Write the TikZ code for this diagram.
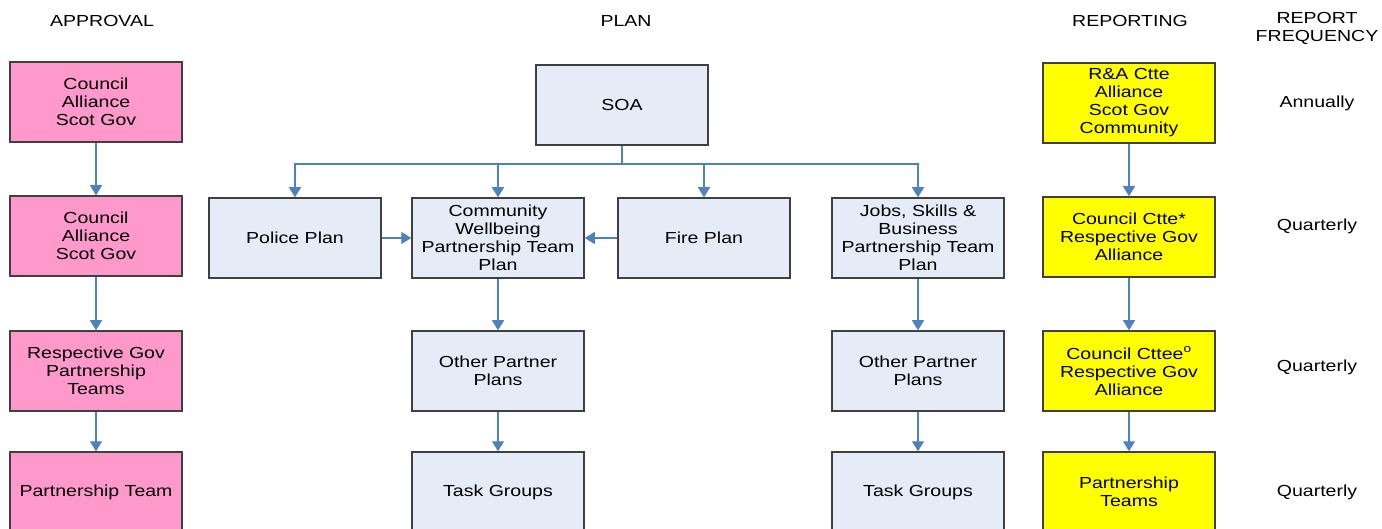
\documentclass[tikz,border=0pt]{standalone}
\usepackage{fontspec}
\setmainfont{Liberation Sans}
\newfontfamily\widefont[FakeStretch=1.22]{Liberation Sans}
\usetikzlibrary{arrows.meta}

\definecolor{approvalpink}{HTML}{FF99CC}
\definecolor{planblue}{HTML}{E5ECF7}
\definecolor{reportyellow}{HTML}{FFFF00}
\definecolor{linkblue}{HTML}{4F81BD}
\definecolor{boxedge}{HTML}{404040}

\tikzset{
    box/.style={draw=boxedge, line width=1.5pt, minimum width=172pt, minimum height=80pt,
        align=center, font=\widefont\fontsize{16}{18}\selectfont, inner sep=2pt},
    approvalbox/.style={box, fill=approvalpink},
    planbox/.style={box, fill=planblue},
    reportbox/.style={box, fill=reportyellow},
    link/.style={draw=linkblue, line width=1.4pt, -{Triangle[width=12pt,length=10pt]}},
    heading/.style={font=\widefont\fontsize{16}{18}\selectfont, align=center},
}

\begin{document}
\begin{tikzpicture}[x=1pt, y=-1pt]

    \clip (0,0) rectangle (1382,529);

% headings
    \node[heading] (hApproval) at (102,21) {APPROVAL};
    \node[heading] (hPlan) at (626,21) {PLAN};
    \node[heading] (hReporting) at (1130,21) {REPORTING};
    \node[heading] (hFrequency) at (1317,28) {REPORT\\FREQUENCY};

% approval column
    \node[approvalbox] (approvalA) at (96,102) {Council\\Alliance\\Scot Gov};
    \node[approvalbox] (approvalB) at (96,236) {Council\\Alliance\\Scot Gov};
    \node[approvalbox] (approvalC) at (96,371) {Respective Gov\\Partnership\\Teams};
    \node[approvalbox] (approvalD) at (96,492) {Partnership Team};

    \draw[link] (approvalA) -- (approvalB);
    \draw[link] (approvalB) -- (approvalC);
    \draw[link] (approvalC) -- (approvalD);

% plan column
    \node[planbox] (soa) at (622,105) {SOA};
    \node[planbox] (police) at (295,238) {Police Plan};
    \node[planbox] (wellbeing) at (498,238) {Community\\Wellbeing\\Partnership Team\\Plan};
    \node[planbox] (fire) at (704,238) {Fire Plan};
    \node[planbox] (jobs) at (918,238) {Jobs, Skills \&\\Business\\Partnership Team\\Plan};

    \node[planbox] (otherA) at (498,371) {Other Partner\\Plans};
    \node[planbox] (otherB) at (918,371) {Other Partner\\Plans};
    \node[planbox] (taskA) at (498,492) {Task Groups};
    \node[planbox] (taskB) at (918,492) {Task Groups};

% soa to plans
    \coordinate (bus) at (622,164);
    \draw[draw=linkblue, line width=1.4pt] (soa.south) -- (bus);
    \draw[link] (bus) -| (police.north);
    \draw[link] (bus) -| (wellbeing.north);
    \draw[link] (bus) -| (fire.north);
    \draw[link] (bus) -| (jobs.north);

    \draw[link] (police) -- (wellbeing);
    \draw[link] (fire) -- (wellbeing);

    \draw[link] (wellbeing) -- (otherA);
    \draw[link] (otherA) -- (taskA);
    \draw[link] (jobs) -- (otherB);
    \draw[link] (otherB) -- (taskB);

% reporting column
    \node[reportbox] (reportA) at (1129,103) {R\&A Ctte\\Alliance\\Scot Gov\\Community};
    \node[reportbox] (reportB) at (1129,237) {Council Ctte*\\Respective Gov\\Alliance};
    \node[reportbox] (reportC) at (1129,371) {Council Cttee\textsuperscript{o}\\Respective Gov\\Alliance};
    \node[reportbox] (reportD) at (1129,492) {Partnership\\Teams};

    \draw[link] (reportA) -- (reportB);
    \draw[link] (reportB) -- (reportC);
    \draw[link] (reportC) -- (reportD);

% frequency
    \node[heading] (freqA) at (1317,103) {Annually};
    \node[heading] (freqB) at (1317,226) {Quarterly};
    \node[heading] (freqC) at (1317,367) {Quarterly};
    \node[heading] (freqD) at (1317,492) {Quarterly};

\end{tikzpicture}
\end{document}
